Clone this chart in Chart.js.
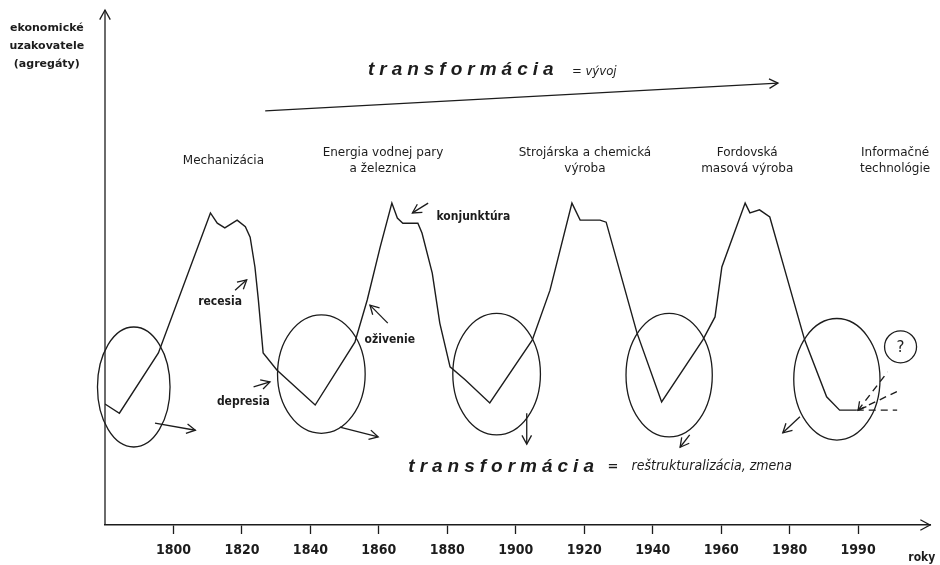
<!DOCTYPE html>
<html>
<head>
<meta charset="utf-8">
<script src="https://cdn.jsdelivr.net/npm/chart.js@4.4.1/dist/chart.umd.min.js"></script>
<style>
  body { margin: 0; background: #fff; }
  #wrap { width: 940px; height: 565px; }
</style>
</head>
<body>
<div id="wrap"><canvas id="cycles" width="940" height="565"></canvas></div>
<script>
// x = position on the time axis (0 = 1800, 1 = 1820 ... 10 = 1990), y = aggregate level
const yearLabels = ['1800', '1820', '1840', '1860', '1880', '1900', '1920', '1940', '1960', '1980', '1990'];

// hand drawn long wave (Kondratiev cycles)
const cycleX = [-1.0, -0.79, -0.22, 0.54, 0.64, 0.75, 0.93, 1.05, 1.12, 1.19,
                1.24, 1.31, 1.51, 2.07, 2.65, 2.83, 3.02, 3.19, 3.27, 3.35,
                3.57, 3.63, 3.78, 3.89, 4.04, 4.26, 4.62, 5.24, 5.50, 5.82,
                5.94, 6.23, 6.32, 6.77, 7.13, 7.73, 7.91, 8.01, 8.35, 8.42,
                8.56, 8.71, 8.90, 9.22, 9.54, 9.73, 9.98];
const cycleY = [23.5, 21.7, 33.4, 60.6, 58.6, 57.7, 59.2, 57.9, 55.9, 50.1,
                43.7, 33.4, 30.1, 23.3, 35.5, 43.7, 54.0, 62.5, 59.6, 58.6,
                58.6, 56.7, 48.9, 39.2, 30.7, 28.2, 23.7, 35.9, 45.6, 62.5,
                59.2, 59.2, 58.8, 37.3, 23.9, 35.9, 40.4, 50.1, 62.5, 60.6,
                61.2, 59.8, 50.9, 35.9, 24.9, 22.3, 22.3];

// uncertain continuation after 1990 (dashed)
const futureX = [9.98, 10.57];
const futureY = [22.3, 22.3];
const scenarioUpX = [10.0, 10.43];
const scenarioUpY = [22.3, 29.7];
const scenarioMidX = [10.0, 10.58];
const scenarioMidY = [22.3, 26.0];

// transformation circles around each depression: centre x, centre y, radius x, radius y
const troughCx = [-0.58, 2.16, 4.72, 7.24, 9.69];
const troughCy = [26.8, 29.3, 29.3, 29.1, 28.3];
const troughRx = [0.53, 0.64, 0.64, 0.63, 0.63];
const troughRy = [11.65, 11.5, 11.8, 12.0, 11.8];

// technology eras above the waves
const eraX = [0.73, 3.06, 6.01, 8.38, 10.54];
const eraText = [
  ['Mechanizácia'],
  ['Energia vodnej pary', 'a železnica'],
  ['Strojárska a chemická', 'výroba'],
  ['Fordovská', 'masová výroba'],
  ['Informačné', 'technológie']
];

// arrows [x0, y0, x1, y1]
const arrows = [
  [-0.27, 19.8, 0.32, 18.4],
  [2.43, 19.0, 2.99, 17.1],
  [5.16, 21.7, 5.16, 15.7],
  [7.54, 17.5, 7.40, 15.1],
  [9.15, 21.0, 8.90, 17.9],
  [0.90, 45.6, 1.07, 47.6],   // recesia
  [1.17, 26.8, 1.41, 27.8],   // depresia
  [3.13, 39.2, 2.87, 42.7],   // ozivenie
  [3.72, 62.5, 3.49, 60.6],   // konjunktura
  [1.34, 80.4, 8.83, 85.8]    // transformacia = vyvoj
];

// phase labels
const phaseText = ['recesia', 'depresia', 'oživenie', 'konjunktúra'];
const phaseX = [0.68, 1.02, 3.16, 4.38];
const phaseY = [43.3, 23.9, 35.9, 59.8];

const ink = '#1c1c1c';
const narrow = '"Liberation Sans Narrow", "DejaVu Sans Condensed", "Liberation Sans", sans-serif';
const plain = '"DejaVu Sans", "Liberation Sans", sans-serif';

function head(ctx, x0, y0, x1, y1, size) {
  const a = Math.atan2(y1 - y0, x1 - x0);
  ctx.beginPath();
  ctx.moveTo(x1 - size * Math.cos(a - 0.5), y1 - size * Math.sin(a - 0.5));
  ctx.lineTo(x1, y1);
  ctx.lineTo(x1 - size * Math.cos(a + 0.5), y1 - size * Math.sin(a + 0.5));
  ctx.stroke();
}

const sketchPlugin = {
  id: 'sketch',
  afterDraw(chart) {
    const ctx = chart.ctx;
    const xs = chart.scales.x, ys = chart.scales.y;
    const px = v => xs.getPixelForValue(v);
    const py = v => ys.getPixelForValue(v);
    ctx.save();
    ctx.strokeStyle = ink;
    ctx.fillStyle = ink;
    ctx.lineWidth = 1.3;

    // y axis with arrow, x axis arrow head
    ctx.beginPath();
    ctx.moveTo(px(-1), py(0));
    ctx.lineTo(px(-1), py(100));
    ctx.stroke();
    head(ctx, px(-1), py(0), px(-1), py(100), 11);
    head(ctx, px(-1), py(0), px(11.05), py(0), 11);

    // circles
    for (let i = 0; i < troughCx.length; i++) {
      const cx = px(troughCx[i]), cy = py(troughCy[i]);
      const rx = Math.abs(px(troughCx[i] + troughRx[i]) - cx);
      const ry = Math.abs(py(troughCy[i] + troughRy[i]) - cy);
      ctx.beginPath();
      ctx.ellipse(cx, cy, rx, ry, 0, 0, Math.PI * 2);
      ctx.stroke();
    }
    // question mark circle
    ctx.beginPath();
    ctx.ellipse(px(10.62), py(34.6), 16, 16, 0, 0, Math.PI * 2);
    ctx.stroke();
    ctx.font = '15px ' + plain;
    ctx.textAlign = 'center';
    ctx.textBaseline = 'middle';
    ctx.fillText('?', px(10.62), py(34.6) + 1);

    // arrows
    arrows.forEach(a => {
      const x0 = px(a[0]), y0 = py(a[1]), x1 = px(a[2]), y1 = py(a[3]);
      ctx.beginPath();
      ctx.moveTo(x0, y0);
      ctx.lineTo(x1, y1);
      ctx.stroke();
      head(ctx, x0, y0, x1, y1, 10);
    });
    head(ctx, px(10.43), py(29.7), px(10.0), py(22.3), 9);

    // era labels
    ctx.font = '12px ' + plain;
    ctx.textAlign = 'center';
    eraX.forEach((x, i) => {
      const lines = eraText[i];
      const y0 = py(70.7) - (lines.length - 1) * 8;
      lines.forEach((t, k) => ctx.fillText(t, px(x), y0 + k * 16));
    });

    // phase labels
    ctx.font = 'bold 12px ' + narrow;
    phaseText.forEach((t, i) => ctx.fillText(t, px(phaseX[i]), py(phaseY[i])));

    // y axis title
    ctx.font = 'bold 11px ' + plain;
    ['ekonomické', 'uzakovatele', '(agregáty)'].forEach((t, k) =>
      ctx.fillText(t, px(-1.85), py(96.4) + k * 18));

    // x axis title
    ctx.font = 'bold 12px ' + narrow;
    ctx.fillText('roky', px(10.93), py(-6.4));

    // transformacia texts
    ctx.textAlign = 'left';
    ctx.font = 'italic bold 19px "Liberation Sans", sans-serif';
    ctx.letterSpacing = '5px';
    ctx.fillText('transformácia', px(2.84), py(88.3));
    ctx.fillText('transformácia', px(3.43), py(11.3));
    ctx.letterSpacing = '0px';
    ctx.font = 'italic 13px ' + narrow;
    ctx.fillText('= vývoj', px(5.82), py(88.3) + 1);
    ctx.font = 'bold 13px ' + plain;
    ctx.fillText('=', px(6.34), py(11.3));
    ctx.font = 'italic 14px ' + narrow;
    ctx.fillText('reštrukturalizácia, zmena', px(6.69), py(11.3));
    ctx.restore();
  }
};

const toXY = (xs, ys) => xs.map((x, i) => ({ x, y: ys[i] }));
const dashed = { borderColor: ink, borderWidth: 1.4, borderDash: [7, 5], pointRadius: 0, fill: false };

new Chart(document.getElementById('cycles'), {
  type: 'line',
  data: {
    datasets: [
      { label: 'cyklus', data: toXY(cycleX, cycleY), borderColor: ink, borderWidth: 1.4,
        pointRadius: 0, tension: 0, fill: false },
      Object.assign({ label: 'pokračovanie', data: toXY(futureX, futureY) }, dashed),
      Object.assign({ label: 'rast', data: toXY(scenarioUpX, scenarioUpY) }, dashed),
      Object.assign({ label: 'stagnácia', data: toXY(scenarioMidX, scenarioMidY) }, dashed)
    ]
  },
  options: {
    responsive: false,
    animation: false,
    devicePixelRatio: 1,
    layout: { padding: { left: 105, right: 10, top: 10, bottom: 0 } },
    plugins: { legend: { display: false }, tooltip: { enabled: false } },
    scales: {
      x: {
        type: 'linear', min: -1, max: 11.05,
        afterBuildTicks: s => { s.ticks = yearLabels.map((_, i) => ({ value: i })); },
        afterFit: s => { s.height = 40; },
        grid: { drawOnChartArea: false, drawTicks: true, tickLength: 9, tickColor: ink, tickWidth: 1.3 },
        border: { display: true, color: ink, width: 1.5 },
        ticks: {
          autoSkip: false, maxRotation: 0, padding: 8, color: ink,
          font: { family: narrow, size: 14, weight: 'bold' },
          callback: v => yearLabels[v] ?? ''
        }
      },
      y: { display: false, min: 0, max: 100 }
    }
  },
  plugins: [sketchPlugin]
});
</script>
</body>
</html>
